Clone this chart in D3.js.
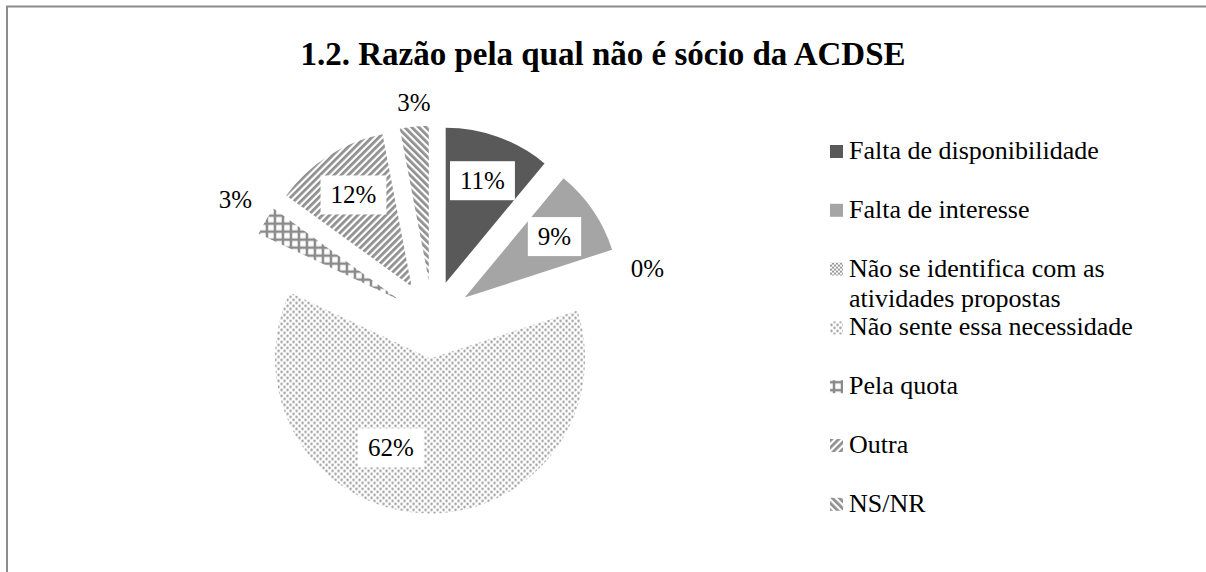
<!DOCTYPE html>
<html>
<head>
<meta charset="utf-8">
<script src="https://cdn.jsdelivr.net/npm/d3@7/dist/d3.min.js"></script>
<style>
body{margin:0;background:#fff}
svg{display:block}
svg text{font-family:'Liberation Serif','Times New Roman','DejaVu Serif',serif}
</style>
</head>
<body>
<script>
// data
const categories = ["Falta de disponibilidade","Falta de interesse","Não se identifica com as atividades propostas","Não sente essa necessidade","Pela quota","Outra","NS/NR"];
const values = [11,9,0,62,3,12,3];
const pctLabels = ["11%","9%","0%","62%","3%","12%","3%"];
const fills = ["#595959","#a5a5a5","url(#checker)","url(#dots)","url(#grid)","url(#up)","url(#down)"];
const title = "1.2. Razão pela qual não é sócio da ACDSE";

const width = 1206, height = 572;
const cx = 432.5, cy = 319.5, radius = 155, explode = 39;
const serif = "'Liberation Serif','Times New Roman','DejaVu Serif',serif";

let svg = d3.select("body").append("svg")
  .attr("width", width).attr("height", height)
  .attr("font-family", serif);

// frame (only left + top visible)
svg.append("path").attr("d","M7,572V6.5H1206").attr("fill","none").attr("stroke","#8c8c8c").attr("stroke-width",2);

// patterns
let defs = svg.append("defs");
function pat(id, w, h, rot){
  let p = defs.append("pattern").attr("id",id).attr("patternUnits","userSpaceOnUse").attr("width",w).attr("height",h);
  if(rot) p.attr("patternTransform","rotate("+rot+")");
  return p;
}
let p1 = pat("dots",6,6);
p1.append("circle").attr("cx",1.5).attr("cy",1.5).attr("r",1.2).attr("fill","#999");
p1.append("circle").attr("cx",4.5).attr("cy",4.5).attr("r",1.2).attr("fill","#999");
let p2 = pat("grid",8,8);
p2.append("path").attr("d","M0,4H8M4,0V8").attr("stroke","#8a8a8a").attr("stroke-width",2.5);
let p3 = pat("up",5,5,45);
p3.append("rect").attr("width",2.8).attr("height",5).attr("fill","#909090");
let p4 = pat("down",5,5,-45);
p4.append("rect").attr("width",2.8).attr("height",5).attr("fill","#909090");
let p5 = pat("checker",4,4);
p5.append("rect").attr("width",2).attr("height",2).attr("fill","#9a9a9a");
p5.append("rect").attr("x",2).attr("y",2).attr("width",2).attr("height",2).attr("fill","#9a9a9a");

// title
svg.append("text").attr("x",603).attr("y",65).attr("text-anchor","middle")
  .attr("font-family",serif)
  .style("font-size","33px").style("font-weight","bold").text(title);

// pie
let pie = d3.pie().sort(null).value(d=>d)(values);
let arc = d3.arc().innerRadius(0).outerRadius(radius);
let g = svg.append("g").attr("transform","translate("+cx+","+cy+")");
let mid = d => (d.startAngle+d.endAngle)/2;

let slices = g.selectAll("g.slice").data(pie).enter().append("g")
  .attr("class","slice")
  .attr("transform", d=>"translate("+(Math.sin(mid(d))*explode)+","+(-Math.cos(mid(d))*explode)+")");
slices.append("path").attr("d",arc).attr("fill",(d,i)=>fills[i]);

// data labels
const labelShift = [0,0,0,20,0,0,0]; // degrees, best-fit nudge
slices.each(function(d,i){
  let s = d3.select(this);
  let t = s.append("text").attr("font-family",serif).style("font-size","25px").attr("text-anchor","middle").text(pctLabels[i]);
  let tw = t.node().getComputedTextLength();
  let bw = tw+20, bh = 39;
  let a = mid(d) + labelShift[i]*Math.PI/180;
  let bx, by;
  if(d.value < 5){
    let pr = radius+4, px = Math.sin(a)*pr, py = -Math.cos(a)*pr;
    bx = Math.abs(Math.sin(a))<0.3 ? px-bw/2 : (Math.sin(a)>0 ? px : px-bw);
    by = Math.abs(Math.cos(a))<0.4 ? py-bh/2+10 : (Math.cos(a)>0 ? py-bh : py);
  } else {
    let pr = radius*(i==3?0.63:0.7);
    bx = Math.sin(a)*pr-bw/2; by = -Math.cos(a)*pr-bh/2;
  }
  s.insert("rect","text").attr("x",bx).attr("y",by).attr("width",bw).attr("height",bh).attr("fill","#fff");
  t.attr("x",bx+bw/2).attr("y",by+bh/2+8.5);
});

// legend
let legend = svg.append("g");
let items = legend.selectAll("g").data(categories).enter().append("g")
  .attr("transform",(d,i)=>"translate(830,"+(159+i*58.8)+")");
items.append("rect").attr("y",-14).attr("width",13).attr("height",13).attr("fill",(d,i)=>fills[i]);
items.append("text").attr("x",19).attr("font-family",serif).style("font-size","26px").each(function(d){
  let t = d3.select(this), words = d.split(" "), line = [];
  let ts = t.append("tspan").attr("x",19).attr("dy",0);
  words.forEach(w=>{
    line.push(w); ts.text(line.join(" "));
    if(ts.node().getComputedTextLength()>300 && line.length>1){
      line.pop(); ts.text(line.join(" "));
      line=[w];
      ts = t.append("tspan").attr("x",19).attr("dy",30).text(w);
    }
  });
});
</script>
</body>
</html>
